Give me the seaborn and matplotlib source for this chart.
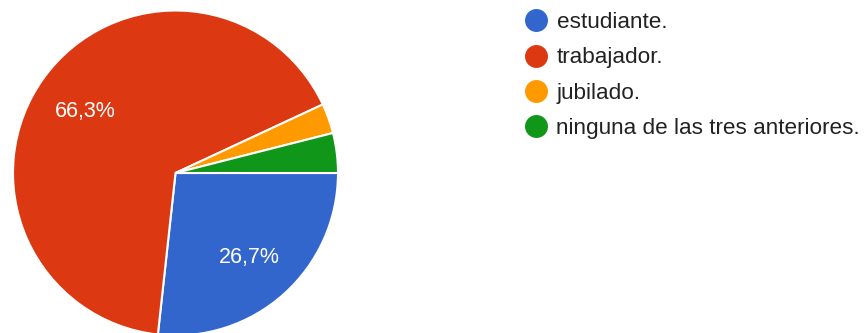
import matplotlib
matplotlib.use("Agg")
import matplotlib.pyplot as plt
from matplotlib.lines import Line2D
import seaborn as sns

# Responses per category
categories = ["estudiante.", "trabajador.", "jubilado.", "ninguna de las tres anteriores."]
counts = [27, 67, 3, 4]
colors = ["#3366cc", "#dc3912", "#ff9900", "#109618"]

sns.set_style("white")
plt.rcParams["font.family"] = ["Liberation Sans", "DejaVu Sans"]
palette = sns.color_palette(colors)

W, H = 865, 333
fig = plt.figure(figsize=(W / 100, H / 100), dpi=100)

# pie axes: circle of radius ~162.5 px centred at (175.5, 173)
cx, cy, r = 175.5, 173.0, 162.5
ax = fig.add_axes([(cx - r) / W, (H - cy - r) / H, 2 * r / W, 2 * r / H])


def pct_label(p):
    return f"{p:.1f}%".replace(".", ",") if p >= 5 else ""


wedges, texts, autotexts = ax.pie(
    counts,
    colors=palette,
    startangle=0,
    counterclock=False,
    autopct=pct_label,
    pctdistance=0.68,
    wedgeprops=dict(edgecolor="white", linewidth=1.5),
    textprops=dict(color="white", fontsize=15.5),
)
for t in autotexts:
    t.set_verticalalignment("center_baseline")
ax.set_xlim(-1, 1)
ax.set_ylim(-1, 1)
ax.set_aspect("auto")
ax.axis("off")

handles = [
    Line2D([0], [0], marker="o", linestyle="none", markersize=15.5,
           markerfacecolor=c, markeredgecolor=c)
    for c in palette
]
fs = 16.2
fig.legend(
    handles, categories,
    loc="upper left",
    bbox_to_anchor=(525 / W, 1 - 12 / H),
    frameon=False,
    borderpad=0,
    borderaxespad=0,
    handlelength=0.95,
    handletextpad=0.45,
    labelspacing=0.64,
    fontsize=fs,
    labelcolor="#222222",
)

fig.savefig("out.png", dpi=100, facecolor="white")
